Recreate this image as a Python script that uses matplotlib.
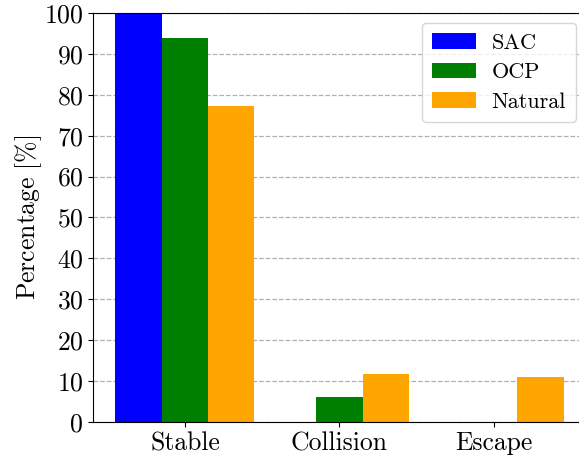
import numpy as np
import matplotlib
matplotlib.use("Agg")
import matplotlib.pyplot as plt

plt.rcParams["font.family"] = "serif"
plt.rcParams["font.serif"] = ["cmr10", "DejaVu Serif"]
plt.rcParams["mathtext.fontset"] = "cm"
plt.rcParams["axes.formatter.use_mathtext"] = True
plt.rcParams["axes.unicode_minus"] = False

categories = ["Stable", "Collision", "Escape"]
sac     = [100.0, 0.0, 0.0]
ocp     = [93.9, 6.1, 0.0]
natural = [77.3, 11.7, 11.0]

series = [("SAC", sac, "blue"), ("OCP", ocp, "green"), ("Natural", natural, "orange")]
width = 0.3

fig = plt.figure(figsize=(5.79, 4.61), dpi=100)
# axes runs a little past the right edge of the canvas, as in the original crop
ax = fig.add_axes([93 / 579, 39 / 461, 493 / 579, 409 / 461])

x = np.arange(len(categories))
for i, (name, vals, color) in enumerate(series):
    ax.bar(x + (i - 1) * width, vals, width, color=color, label=name, zorder=2)

ax.set_xticks(x)
ax.set_xticklabels(categories, fontsize=18.5)
ax.set_yticks(np.arange(0, 101, 10))
ax.tick_params(axis="y", labelsize=18.5)
ax.set_ylim(0, 100)
ax.set_xlim(-0.595, 2.595)
ax.set_ylabel(r"$\mathrm{Percentage\ [\%]}$", fontsize=18.5, labelpad=0)
ax.yaxis.grid(True, linestyle="--", color="#b0b0b0", linewidth=0.9, zorder=0)
ax.set_axisbelow(True)
ax.legend(loc="upper right", fontsize=16, handlelength=2.0, handletextpad=0.7,
          borderpad=0.45, labelspacing=0.45, borderaxespad=0.45, framealpha=0.8)

fig.savefig("out.png", dpi=100)
